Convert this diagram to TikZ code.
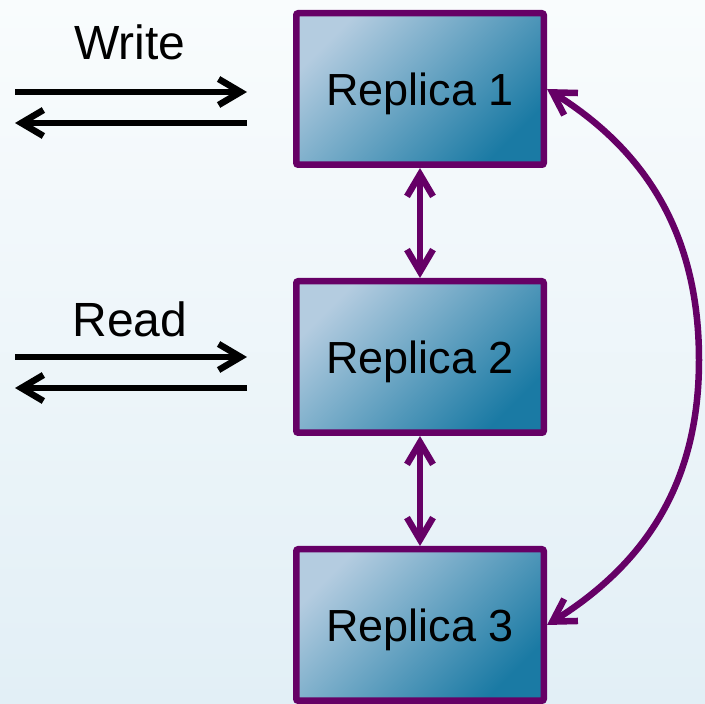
\documentclass[tikz,border=0pt]{standalone}
\usepackage{fontspec}
\setmainfont{Liberation Sans}
\usepackage{xcolor}
\usepackage{tikz}
\usetikzlibrary{positioning,calc,shadows,arrows.meta}

\definecolor{replicaPurple}{RGB}{102,0,102}
\definecolor{boxLight}{RGB}{180,204,224}
\definecolor{boxMid}{RGB}{100,158,196}
\definecolor{boxDark}{RGB}{26,122,164}
\definecolor{bgTop}{RGB}{249,252,253}
\definecolor{bgBottom}{RGB}{226,239,246}

\begin{document}
\begin{tikzpicture}[x=1pt, y=1pt,
        replica/.style={draw=replicaPurple, line width=6.5pt, rounded corners=2pt,
            minimum width=247.5pt, minimum height=151.5pt, text depth=0pt,
            top color=boxLight, middle color=boxMid, bottom color=boxDark, shading angle=45,
            drop shadow={shadow xshift=2pt, shadow yshift=-3pt, opacity=0.35, fill=black!60},
            font=\fontsize{45}{54}\selectfont},
        opname/.style={font=\fontsize{48}{56}\selectfont, anchor=base, inner sep=0pt},
        client/.style={line width=6.5pt, black, -{Straight Barb[length=22pt, width=26pt]}},
        sync/.style={line width=6.5pt, replicaPurple, {Straight Barb[length=22pt, width=26pt]}-{Straight Barb[length=22pt, width=26pt]}}]
        \useasboundingbox (0,0) rectangle (705,704);
        \shade[top color=bgTop, bottom color=bgBottom] (0,0) rectangle (705,704);

        % replicas
        \node[replica] (r1) at (420,615) {Replica 1};
        \node[replica, below=110pt of r1] (r2) {Replica 2};
        \node[replica, below=110pt of r2] (r3) {Replica 3};

        \draw[sync] (r1) -- (r2);
        \draw[sync] (r2) -- (r3);
        \draw[sync] (r1.east) to[out=-32, in=90] (699,344) to[out=-90, in=32] (r3.east);

        % clients
        \node[opname] (write) at (130,644) {Write};
        \coordinate (writeA) at (15,612);
        \coordinate (writeB) at (247,612);
        \coordinate (writeC) at (15,581);
        \coordinate (writeD) at (247,581);
        \draw[client] (writeA) -- (writeB);
        \draw[client] (writeD) -- (writeC);

        \node[opname] (read) at (130,367) {Read};
        \coordinate (readA) at (15,347);
        \coordinate (readB) at (247,347);
        \coordinate (readC) at (15,316);
        \coordinate (readD) at (247,316);
        \draw[client] (readA) -- (readB);
        \draw[client] (readD) -- (readC);
    \end{tikzpicture}
\end{document}
